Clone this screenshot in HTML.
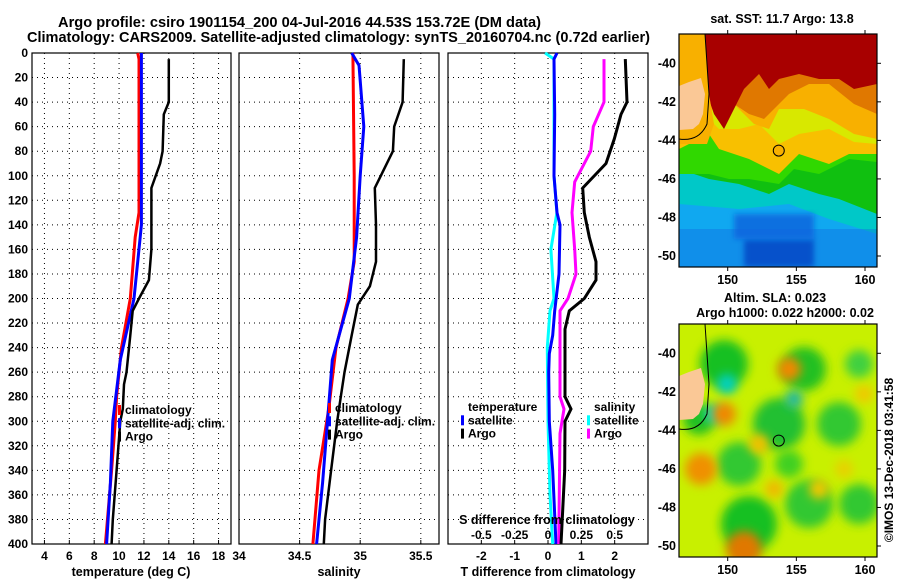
<!DOCTYPE html>
<html><head><meta charset="utf-8">
<style>
html,body{margin:0;padding:0;background:#fff;}
svg text{font-family:"Liberation Sans",Arial,sans-serif;font-weight:bold;}
</style></head>
<body>
<svg id="fig" width="900" height="580" viewBox="0 0 900 580" xmlns="http://www.w3.org/2000/svg">
<defs>
<filter id="blur4" x="-20%" y="-20%" width="140%" height="140%"><feGaussianBlur stdDeviation="3"/></filter>
<filter id="blur8" x="-50%" y="-50%" width="200%" height="200%"><feGaussianBlur stdDeviation="5"/></filter>
<clipPath id="clipM1"><rect x="679" y="34" width="198" height="233"/></clipPath>
<clipPath id="clipM2"><rect x="679" y="324" width="198" height="233"/></clipPath>
</defs>
<text x="58" y="27" font-size="15" textLength="483" lengthAdjust="spacingAndGlyphs">Argo profile: csiro 1901154_200 04-Jul-2016 44.53S 153.72E (DM data)</text>
<text x="27" y="42" font-size="15" textLength="623" lengthAdjust="spacingAndGlyphs">Climatology: CARS2009. Satellite-adjusted climatology: synTS_20160704.nc (0.72d earlier)</text>
<g id="plots"></g>
<g id="maps"></g>
</svg>
<script>
// ---------- data ----------
const depthTicks = [0,20,40,60,80,100,120,140,160,180,200,220,240,260,280,300,320,340,360,380,400];
const tempTicks = [4,6,8,10,12,14,16,18];
const salTicks = [34,34.5,35,35.5];
const tdiffTicks = [-2,-1,0,1,2];
const sdiffTicks = [-0.5,-0.25,0,0.25,0.5];
const sdiffLabels = ["-0.5","-0.25","0","0.25","0.5"];

const tArgoDepth = [5,40,50,80,90,110,160,185,200,210,230,260,270,290,300,340,380,400];
const tArgoVal   = [14,14,13.6,13.5,13.3,12.6,12.6,12.4,11.6,11.1,10.9,10.6,10.4,10.3,10.1,9.8,9.5,9.4];
const tClimDepth = [0,5,130,150,200,240,280,300,340,400];
const tClimVal   = [11.5,11.6,11.6,11.3,10.9,10.2,9.8,9.7,9.4,8.9];
const tSatDepth  = [0,140,150,200,250,300,350,400];
const tSatVal    = [11.8,11.8,11.7,11.2,10.1,9.5,9.3,9.0];

const sArgoDepth = [5,40,60,80,110,140,170,190,205,230,260,280,300,340,380,400];
const sArgoVal   = [35.36,35.35,35.28,35.27,35.12,35.13,35.13,35.08,34.98,34.93,34.87,34.84,34.81,34.76,34.71,34.70];
const sClimDepth = [0,100,170,200,240,290,340,400];
const sClimVal   = [34.94,34.95,34.95,34.90,34.80,34.74,34.66,34.61];
const sSatDepth  = [0,10,60,100,150,200,250,300,350,400];
const sSatVal    = [34.93,34.99,35.03,35.00,34.97,34.91,34.77,34.73,34.69,34.64];

const dtArgoDepth = [5,40,50,70,90,110,130,150,170,185,200,210,225,260,280,290,300,340,400];
const dtArgoVal   = [2.32,2.37,2.19,1.99,1.74,1.04,1.09,1.24,1.44,1.44,1.09,0.64,0.51,0.51,0.51,0.69,0.51,0.50,0.39];
const dsArgoDepth = [5,40,60,80,105,130,160,180,200,210,240,280,290,310,400];
const dsArgoVal   = [0.42,0.42,0.34,0.32,0.20,0.18,0.20,0.21,0.15,0.09,0.09,0.09,0.12,0.09,0.08];
const dtSatDepth  = [0,5,50,100,130,140,180,210,230,245,260,300,340,400];
const dtSatVal    = [0.27,0.18,0.20,0.18,0.27,0.36,0.33,0.20,0.14,0.04,0.02,0.04,0.14,0.24];
const dsSatDepth  = [0,5,100,130,160,200,210,240,300,360,400];
const dsSatVal    = [-0.022,0.045,0.045,0.067,0.022,0.045,0.015,-0.005,0.0,0.015,0.035];

// ---------- geometry ----------
const NS='http://www.w3.org/2000/svg';
const TOP=53, BOT=544;
function yD(d){return TOP+(d/400)*(BOT-TOP);}
function mk(tag,attrs,parent){const e=document.createElementNS(NS,tag);for(const k in attrs)e.setAttribute(k,attrs[k]);parent.appendChild(e);return e;}
const plots=document.getElementById('plots');
const panels=[
 {name:'temperature-panel',x0:32,x1:231,min:3,max:19},
 {name:'salinity-panel',x0:239,x1:439,min:34,max:35.65},
 {name:'difference-panel',x0:448,x1:648,min:-3,max:3}
];
function xs(p,v){return p.x0+(v-p.min)/(p.max-p.min)*(p.x1-p.x0);}
function stepPath(p,depths,vals,scale){
  let d='';
  for(let i=0;i<depths.length;i++){
    const x=xs(p,vals[i]*(scale||1)).toFixed(1), y=yD(depths[i]).toFixed(1);
    d+=(i?'L':'M')+x+' '+y;
  }
  return d;
}
panels.forEach((p,pi)=>{
  const g=mk('g',{},plots);
  
  
  depthTicks.forEach(d=>{ if(d>0&&d<400){const l=mk('line',{x1:p.x0,x2:p.x1,y1:yD(d),y2:yD(d),stroke:'#000','stroke-width':1,'stroke-dasharray':'1 4'},g);
    }});
  const vt = pi===0?tempTicks:(pi===1?salTicks:tdiffTicks);
  vt.forEach(v=>{const x=xs(p,v); if(x>p.x0+1&&x<p.x1-1){const l=mk('line',{x1:x,x2:x,y1:TOP,y2:BOT,stroke:'#000','stroke-width':1,'stroke-dasharray':'1 4'},g);
    }});
  const fr=mk('rect',{x:p.x0,y:TOP,width:p.x1-p.x0,height:BOT-TOP,fill:'none',stroke:'#000','stroke-width':1.2},g);
  
  vt.forEach(v=>{const t=mk('text',{x:xs(p,v),y:560,'font-size':12,'text-anchor':'middle'},g);t.textContent=String(v);
    
    mk('line',{x1:xs(p,v),x2:xs(p,v),y1:BOT,y2:BOT-4,stroke:'#000'},g);});
});
depthTicks.forEach(d=>{const t=mk('text',{x:28,y:yD(d)+4,'font-size':12,'text-anchor':'end'},plots);t.textContent=String(d);
  });
[['temperature (deg C)',131,'temperature-axis-title'],['salinity',339,'salinity-axis-title'],['T difference from climatology',548,'tdiff-axis-title']].forEach(a=>{
  const t=mk('text',{x:a[1],y:576,'font-size':12.5,'text-anchor':'middle'},plots);t.textContent=a[0];
  });
function series(p,depths,vals,color,w,name,scale){
  const e=mk('path',{d:stepPath(p,depths,vals,scale),fill:'none',stroke:color,'stroke-width':w,'stroke-linejoin':'miter'},plots);
  
}
const P1=panels[0],P2=panels[1],P3=panels[2];
series(P1,tClimDepth,tClimVal,'#ff0000',3,'temp-climatology-line');
series(P1,tSatDepth,tSatVal,'#0000ff',3,'temp-satellite-line');
series(P1,tArgoDepth,tArgoVal,'#000',2.5,'temp-argo-line');
series(P2,sClimDepth,sClimVal,'#ff0000',3,'sal-climatology-line');
series(P2,sSatDepth,sSatVal,'#0000ff',3,'sal-satellite-line');
series(P2,sArgoDepth,sArgoVal,'#000',2.5,'sal-argo-line');
series(P3,dsSatDepth,dsSatVal,'#00ffff',3,'sdiff-satellite-line',4);
series(P3,dtSatDepth,dtSatVal,'#0000ff',3,'tdiff-satellite-line');
series(P3,dsArgoDepth,dsArgoVal,'#ff00ff',3,'sdiff-argo-line',4);
series(P3,dtArgoDepth,dtArgoVal,'#000',3,'tdiff-argo-line');
const st=mk('text',{x:547,y:524,'font-size':12.5,'text-anchor':'middle'},plots);st.textContent='S difference from climatology';

sdiffTicks.forEach((v,i)=>{const t=mk('text',{x:xs(P3,v*4),y:539,'font-size':12,'text-anchor':'middle'},plots);t.textContent=sdiffLabels[i];
  });
function legend(x,y,items,name){
  const g=mk('g',{},plots);
  items.forEach((it,i)=>{
    const yy=y+i*13.3;
    if(it[1]){mk('rect',{x:x-7,y:yy-9,width:3,height:10,fill:it[1]},g);}
    const t=mk('text',{x:x,y:yy,'font-size':12},g);t.textContent=it[0];
    
  });
}
legend(125,414,[['climatology','#ff0000'],['satellite-adj. clim.','#0000ff'],['Argo','#000']],'temp-legend');
legend(335,412,[['climatology','#ff0000'],['satellite-adj. clim.','#0000ff'],['Argo','#000']],'sal-legend');
legend(468,411,[['temperature',null],['satellite','#0000ff'],['Argo','#000']],'tdiff-legend');
legend(594,411,[['salinity',null],['satellite','#00ffff'],['Argo','#ff00ff']],'sdiff-legend');

// ---------- maps ----------
const maps=document.getElementById('maps');
const lonTicks=[150,155,160], latTicks=[-40,-42,-44,-46,-48,-50];
function mx(lon){return 727.7+(lon-150)*13.73;}
function my1(lat){return 63.3+(-40-lat)*19.27;}
function my2(lat){return 353.3+(-40-lat)*19.27;}
function mapFrame(y0,myf,name){
  const g=mk('g',{},maps);
  mk('rect',{x:679,y:y0,width:198,height:233,fill:'none',stroke:'#000','stroke-width':1.2},g);
  lonTicks.forEach(l=>{mk('line',{x1:mx(l),x2:mx(l),y1:y0,y2:y0-4,stroke:'#000'},g);
    mk('line',{x1:mx(l),x2:mx(l),y1:y0+233,y2:y0+237,stroke:'#000'},g);
    const t=mk('text',{x:mx(l),y:y0+250,'font-size':12.5,'text-anchor':'middle'},g);t.textContent=String(l);
    });
  latTicks.forEach(l=>{mk('line',{x1:877,x2:881,y1:myf(l),y2:myf(l),stroke:'#000'},g);
    const t=mk('text',{x:676,y:myf(l)+4,'font-size':12.5,'text-anchor':'end'},g);t.textContent=String(l);
    });
  return g;
}
const X=679,Y=34;
function poly(g,pts,fill,ox,oy){return mk('polygon',{points:pts.map(p=>(p[0]+ox)+','+(p[1]+oy)).join(' '),fill:fill},g);}
// Map 1 SST
const m1=mk('g',{'clip-path':'url(#clipM1)'},maps);
mk('rect',{x:X,y:Y,width:198,height:233,fill:'#10a8f0'},m1);
poly(m1,[[0,0],[198,0],[198,200],[150,185],[110,170],[60,175],[0,170]],'#00c8c8',X,Y);
poly(m1,[[0,0],[198,0],[198,180],[160,165],[140,160],[110,150],[90,160],[60,150],[30,145],[0,135]],'#10c010',X,Y);
poly(m1,[[0,0],[198,0],[198,128],[170,125],[140,140],[115,135],[100,150],[70,145],[50,145],[30,140],[0,140]],'#30d800',X,Y);
poly(m1,[[0,0],[198,0],[198,120],[170,120],[150,130],[120,120],[100,140],[70,125],[40,115],[30,100],[0,115]],'#f8c000',X,Y);
poly(m1,[[0,0],[198,0],[198,110],[175,108],[150,95],[120,100],[100,110],[80,90],[60,95],[40,95],[30,85],[0,90]],'#d8e800',X,Y);
poly(m1,[[0,0],[198,0],[198,105],[175,100],[150,85],[125,75],[100,75],[90,95],[75,90],[55,70],[40,65],[30,80],[0,85]],'#f8b000',X,Y);
poly(m1,[[0,0],[198,0],[198,80],[175,70],[150,50],[130,50],[110,60],[100,70],[85,85],[70,80],[55,70],[26,55],[0,40]],'#e07800',X,Y);
poly(m1,[[26,0],[198,0],[198,50],[175,55],[160,45],[140,45],[120,40],[100,45],[90,55],[80,40],[65,55],[55,75],[45,95],[35,80],[28,60]],'#a80000',X,Y);
poly(m1,[[0,0],[26,0],[30,60],[35,90],[28,110],[0,110]],'#f8b000',X,Y);
mk('rect',{x:X+65,y:Y+205,width:70,height:28,fill:'#0048c0',filter:'url(#blur4)'},m1);
mk('rect',{x:X+55,y:Y+180,width:80,height:25,fill:'#1070e0',filter:'url(#blur4)'},m1);
mk('rect',{x:X,y:Y+195,width:198,height:38,fill:'#1060e0',opacity:0.35},m1);
poly(m1,[[0,52],[10,48],[22,44],[26,60],[24,80],[20,90],[14,95],[0,96]],'#fac896',X,Y);
mk('path',{d:`M${X} ${Y+105} Q${X+20} ${Y+108} ${X+28} ${Y+90} L${X+30} ${Y+60} L${X+26} ${Y+0}`,fill:'none',stroke:'#000','stroke-width':1},m1);
mapFrame(34,my1,'sst-map-axes');
const c1=mk('circle',{cx:mx(153.72),cy:my1(-44.53),r:5.5,fill:'#f8b000',stroke:'#000','stroke-width':1},maps);

const t1=mk('text',{x:782,y:23,'font-size':12.5,'text-anchor':'middle'},maps);t1.textContent='sat. SST: 11.7 Argo: 13.8';

// Map 2 SLA
const m2=mk('g',{'clip-path':'url(#clipM2)'},maps);
const Y2=324;
mk('rect',{x:X,y:Y2,width:198,height:233,fill:'#c8f000'},m2);
const blobs=[[45,40,24,'#18c020'],[125,45,22,'#20c020'],[100,100,26,'#20c030'],[160,100,22,'#30c830'],[60,140,22,'#30c830'],[130,180,24,'#30c830'],[70,200,28,'#18c020'],[180,180,20,'#30c830'],[180,40,14,'#40d040'],[20,95,16,'#20c020'],[110,140,14,'#40d020'],
 [48,60,10,'#00d0c0'],[35,90,9,'#00d8d8'],[115,75,9,'#20b8a0'],
 [110,45,12,'#f08800'],[45,90,12,'#f08800'],[22,145,16,'#f09000'],[65,225,18,'#e07800'],[80,120,10,'#f0c000'],[95,165,9,'#f0b800'],[140,165,10,'#f0c800'],[165,145,9,'#e8d000'],[185,70,9,'#f0c800']];
blobs.forEach(b=>{mk('circle',{cx:X+b[0],cy:Y2+b[1],r:b[2],fill:b[3],filter:'url(#blur8)'},m2);});
poly(m2,[[0,52],[10,48],[22,44],[26,60],[24,80],[20,90],[14,95],[0,96]],'#fac896',X,Y2);
mk('path',{d:`M${X} ${Y2+105} Q${X+20} ${Y2+108} ${X+28} ${Y2+90} L${X+30} ${Y2+60} L${X+26} ${Y2+0}`,fill:'none',stroke:'#000','stroke-width':1},m2);
mapFrame(324,my2,'sla-map-axes');
const c2=mk('circle',{cx:mx(153.72),cy:my2(-44.53),r:5.5,fill:'none',stroke:'#000','stroke-width':1},maps);

const t2=mk('text',{x:775,y:302,'font-size':12.5,'text-anchor':'middle'},maps);t2.textContent='Altim. SLA: 0.023';

const t3=mk('text',{x:785,y:317,'font-size':12.5,'text-anchor':'middle'},maps);t3.textContent='Argo h1000: 0.022 h2000: 0.02';

const t4=mk('text',{x:0,y:0,'font-size':12,'font-weight':'normal','text-anchor':'middle',transform:'translate(893,460) rotate(-90)'},maps);t4.textContent='©IMOS 13-Dec-2018 03:41:58';

</script>
</body></html>
